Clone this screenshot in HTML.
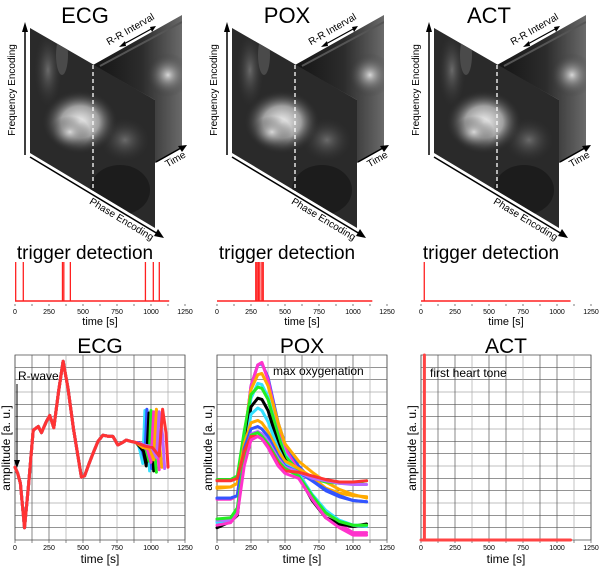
<!DOCTYPE html>
<html><head><meta charset="utf-8">
<style>
html,body{margin:0;padding:0;background:#fff;}
svg{display:block;font-family:"Liberation Sans",sans-serif;}
</style></head>
<body>
<svg id="fig" width="600" height="567" viewBox="0 0 600 567">
<defs>
  <radialGradient id="heart" cx="0.5" cy="0.5" r="0.5">
    <stop offset="0" stop-color="#f0f0f0"/><stop offset="0.5" stop-color="#a0a0a0"/><stop offset="1" stop-color="#2a2a2a" stop-opacity="0"/>
  </radialGradient>
  <radialGradient id="glow" cx="0.5" cy="0.5" r="0.5">
    <stop offset="0" stop-color="#d8d8d8"/><stop offset="1" stop-color="#303030" stop-opacity="0"/>
  </radialGradient>
  <radialGradient id="soft" cx="0.5" cy="0.5" r="0.5">
    <stop offset="0" stop-color="#6a6a6a"/><stop offset="1" stop-color="#303030" stop-opacity="0"/>
  </radialGradient>
  <linearGradient id="backg" x1="0" y1="0" x2="1" y2="0">
    <stop offset="0" stop-color="#141414"/><stop offset="0.55" stop-color="#2c2c2c"/><stop offset="1" stop-color="#6a6a6a"/>
  </linearGradient>
  <clipPath id="frontClip"><polygon points="30,28 155,100 155,228 30,153"/></clipPath>
  <clipPath id="backClip"><polygon points="93,65 182,15 182,148 155,163 155,100"/></clipPath>
  <g id="mri">
    <polygon points="93,65 182,15 182,148 155,163 155,100" fill="url(#backg)"/>
    <g clip-path="url(#backClip)">
      <ellipse cx="168" cy="75" rx="22" ry="22" fill="url(#glow)"/>
      <polygon points="125,88 155,100 155,163 125,150" fill="#3a3a3a"/>
      <line x1="100" y1="66" x2="182" y2="22" stroke="#555" stroke-width="2"/>
    </g>
    <polygon points="30,28 155,100 155,228 30,153" fill="#2a2a2a"/>
    <g clip-path="url(#frontClip)">
      <ellipse cx="48" cy="70" rx="14" ry="38" fill="url(#soft)"/>
      <ellipse cx="62" cy="55" rx="6" ry="20" fill="#4a4a4a"/>
      <ellipse cx="120" cy="190" rx="30" ry="25" fill="#1c1c1c"/>
      <ellipse cx="125" cy="140" rx="25" ry="22" fill="url(#soft)"/>
      <ellipse cx="80" cy="122" rx="38" ry="32" fill="url(#heart)"/>
      <ellipse cx="70" cy="132" rx="20" ry="16" fill="url(#glow)"/>
    </g>
    <line x1="93" y1="65" x2="93" y2="193" stroke="#fff" stroke-width="1.3" stroke-dasharray="4,3"/>
    <line x1="25" y1="155" x2="25" y2="30" stroke="#000" stroke-width="1.5"/>
    <polygon points="25,22 22,32 28,32" fill="#000"/>
    <line x1="30" y1="157" x2="158" y2="234" stroke="#000" stroke-width="1.5"/>
    <polygon points="164,238 154,236 158,229" fill="#000"/>
    <line x1="156" y1="162" x2="181" y2="148" stroke="#000" stroke-width="1.5"/>
    <polygon points="187,145 178,146 182,152" fill="#000"/>
    <line x1="122" y1="45" x2="153" y2="28" stroke="#000" stroke-width="1.2"/>
    <polygon points="119,47 125,41 126,46" fill="#000"/>
    <polygon points="156,26 150,27 152,32" fill="#000"/>
    <text x="15" y="90" font-size="10" text-anchor="middle" transform="rotate(-90 15 90)">Frequency Encoding</text>
    <text x="120" y="222" font-size="10" text-anchor="middle" transform="rotate(31 120 222)">Phase Encoding</text>
    <text x="177" y="162" font-size="10" text-anchor="middle" transform="rotate(-30 177 162)">Time</text>
    <text x="132" y="32" font-size="10" text-anchor="middle" transform="rotate(-30 132 32)">R-R Interval</text>
  </g>
</defs>
<g id="tops"></g>
<g id="charts"></g>
</svg>
<script>
// ---------------- data ----------------
const panelTitles = ["ECG", "POX", "ACT"];
const tickLabels = ["0", "250", "500", "750", "1000", "1250"];
const tickValues = [0, 250, 500, 750, 1000, 1250];
const gridT = [0,125,250,375,500,625,750,875,1000,1125,1250];

const trigEcg = [5, 61, 349, 359, 407, 959, 1017, 1061];
const trigPox = [285, 295, 305, 315, 330, 340];
const trigAct = [24];
const trigEnd = [1134, 1142, 1100];

// ECG common waveform
const ecgT = [0,20,40,70,100,134,171,195,230,256,285,320,354,390,430,488,512,545,573,610,646,690,720,756,790,817,850,890];
const ecgV = [5.9,5.4,4.6,1.0,4.5,8.9,9.2,8.7,9.6,10.1,9.1,12.0,14.5,12.3,9.0,5.1,5.2,6.2,7.0,8.0,8.5,8.4,8.4,7.7,7.9,8.1,8.0,7.9];
const ecgColors = ["#33e0ff","#3355ff","#000000","#22ee22","#ff33cc","#ffaa00","#bb66ff","#ff3333"];
const tailT_cyan = [905,920,940,955,975,990];       const tailV_cyan = [7.8,7.2,6.2,10.5,8.5,5.6];
const tailT_blue = [910,930,955,970,990,1005];      const tailV_blue = [7.9,7.4,6.5,10.6,8.2,5.8];
const tailT_black = [915,945,965,985,1005,1020];    const tailV_black = [7.6,7.2,6.0,10.3,8.4,5.6];
const tailT_green = [920,960,985,1000,1020,1040];   const tailV_green = [7.7,7.5,6.4,10.5,8.0,5.5];
const tailT_mag = [930,975,1000,1020,1040,1060];    const tailV_mag = [7.8,7.3,6.3,10.4,8.3,5.7];
const tailT_orange = [940,990,1020,1040,1060,1080]; const tailV_orange = [7.5,7.4,6.5,10.6,8.0,5.9];
const tailT_violet = [950,1000,1040,1060,1085,1100];const tailV_violet = [7.7,7.6,6.7,10.4,8.5,5.8];
const tailT_red = [960,1010,1060,1085,1110,1125];   const tailV_red = [7.6,7.5,6.8,10.6,8.7,5.9];
const ecgTailT = [tailT_cyan,tailT_blue,tailT_black,tailT_green,tailT_mag,tailT_orange,tailT_violet,tailT_red];
const ecgTailV = [tailV_cyan,tailV_blue,tailV_black,tailV_green,tailV_mag,tailV_orange,tailV_violet,tailV_red];

// POX
const poxT = [0,100,150,200,250,300,330,375,450,500,600,700,800,900,1000,1100];
const poxColors = ["#3355ff","#ff33cc","#ffaa00","#33e0ff","#22ee22","#000000","#33e0ff","#ffaa00","#3355ff","#bb66ff","#22ee22","#ff3333","#ff33cc"];
const pox1 = [3.4,3.4,3.6,8,12.5,14.2,14.3,13.2,9.5,7.8,6,4.8,4.0,3.5,3.2,3.1];
const pox2 = [3.3,3.3,3.6,8,12.5,14.2,14.4,13.0,9.2,7.4,5.6,3.4,2.2,1.3,0.6,0.6];
const pox3 = [4.3,4.3,4.6,8.5,12.2,13.4,13.5,12.5,9.5,7.8,6.4,5.5,4.7,4.1,3.7,3.4];
const pox4 = [1.5,1.6,2.5,7.5,11.5,12.7,12.6,11.6,8.5,7.0,5.4,3.6,2.3,1.6,1.2,1.2];
const pox5 = [4.9,4.9,5.2,8.8,11.8,12.4,12.3,11.4,8.5,6.8,5.6,5.0,4.7,4.6,4.6,4.8];
const pox6 = [1.0,1.5,2.0,7.0,10.8,11.5,11.4,10.5,7.8,6.5,5.2,3.2,1.8,1.3,1.1,1.3];
const pox7 = [1.4,1.6,2.3,6.8,10.2,10.7,10.5,9.6,7.4,6.3,5.4,3.7,2.4,1.6,1.2,1.1];
const pox8 = [4.2,4.3,4.6,7.8,9.5,9.7,9.5,8.8,7.2,6.4,5.8,5.1,4.2,3.8,3.6,3.5];
const pox9 = [3.4,3.4,3.6,7.4,9.0,9.2,9.0,8.4,6.8,6.0,5.5,4.8,4.1,3.6,3.2,3.1];
const pox10 = [1.6,1.6,2.3,6.8,8.6,8.8,8.6,8.0,6.6,5.9,5.5,5.0,4.8,4.6,4.5,4.5];
const pox11 = [1.7,1.8,2.6,6.6,8.5,8.7,8.4,7.8,6.4,5.8,5.2,3.6,2.2,1.5,1.2,1.2];
const pox12 = [4.8,4.8,5.0,7.2,8.4,8.4,8.2,7.6,6.2,5.6,5.5,5.2,4.9,4.7,4.7,4.8];
const pox13 = [1.2,1.4,2.1,6.0,8.1,8.4,8.2,7.5,6.0,5.4,5.0,3.3,1.8,1.0,0.4,0.4];
const poxSeries = [pox1,pox2,pox3,pox4,pox5,pox6,pox7,pox8,pox9,pox10,pox11,pox12,pox13];

// ACT
const actSpikeT = [25];
const actBaseEnd = [1100];
const actTop = [15];

// ---------------- drawing ----------------
const NS = "http://www.w3.org/2000/svg";
const tops = document.getElementById("tops");
const charts = document.getElementById("charts");
const colX = [0, 202, 404];
const plotX = [15, 217, 421];
const W = 170, Y0 = 540, Y1 = 355, AMAX = 15;

function mk(tag, parent, attrs) {
  const e = document.createElementNS(NS, tag);
  for (const k in attrs) e.setAttribute(k, attrs[k]);
  parent.appendChild(e);
  return e;
}
function xs(c, t) { return plotX[c] + t / 1250 * W; }
function ys(a) { return Y0 - a / AMAX * (Y0 - Y1); }

panelTitles.forEach((title, c) => {
  const g = mk("g", tops, {transform: "translate(" + colX[c] + ",0)"});
  
  
  mk("use", g, {href: "#mri"});
  const tt = mk("text", g, {x: 85, y: 23, "font-size": 22, "text-anchor": "middle"});
  tt.textContent = title;
  
  

  const tg = mk("g", charts, {});
  
  
  const th = mk("text", tg, {x: plotX[c] + 70, y: 259, "font-size": 19, "text-anchor": "middle"});
  th.textContent = "trigger detection";
  
  
  const base = 301;
  const bl = mk("line", tg, {x1: xs(c, 0), y1: base, x2: xs(c, trigEnd[c]), y2: base, stroke: "#ff2020", "stroke-width": 1.6});
  
  
  const trig = [trigEcg, trigPox, trigAct][c];
  trig.forEach(t => {
    const p = mk("line", tg, {x1: xs(c, t), y1: base, x2: xs(c, t), y2: 262, stroke: "#ff2020", "stroke-width": 1.3});
    
    
  });
  gridT.forEach(t => { mk("line", tg, {x1: xs(c, t), y1: 304, x2: xs(c, t), y2: 306, stroke: "#444", "stroke-width": 0.7}); });
  tickValues.forEach((t, i) => {
    const l = mk("text", tg, {x: xs(c, t), y: 314, "font-size": 7, "text-anchor": "middle"});
    l.textContent = tickLabels[i];
    
    
  });
  const tx = mk("text", tg, {x: xs(c, 625), y: 325, "font-size": 11, "text-anchor": "middle"});
  tx.textContent = "time [s]";
  
  

  const bg = mk("g", charts, {});
  
  
  const bt = mk("text", bg, {x: plotX[c] + 85, y: 353, "font-size": 21, "text-anchor": "middle"});
  bt.textContent = title;
  
  
  mk("rect", bg, {x: plotX[c], y: Y1, width: W, height: Y0 - Y1, fill: "#fff", stroke: "#555", "stroke-width": 0.8});
  for (let a = 1; a < AMAX; a++) {
    mk("line", bg, {x1: plotX[c], y1: ys(a), x2: plotX[c] + W, y2: ys(a), stroke: (a % 3 === 0) ? "#aaa" : "#555", "stroke-width": 0.7});
  }
  gridT.forEach((t, i) => {
    mk("line", bg, {x1: xs(c, t), y1: Y1, x2: xs(c, t), y2: Y0, stroke: (i % 3 === 0 && i > 0) ? "#aaa" : "#555", "stroke-width": 0.7});
    mk("line", bg, {x1: xs(c, t), y1: Y0, x2: xs(c, t), y2: Y0 + 3, stroke: "#555", "stroke-width": 0.7});
  });
  tickValues.forEach((t, i) => {
    const l = mk("text", bg, {x: xs(c, t), y: 550, "font-size": 7, "text-anchor": "middle"});
    l.textContent = tickLabels[i];
    
    
  });
  const xt = mk("text", bg, {x: xs(c, 625), y: 563, "font-size": 12, "text-anchor": "middle"});
  xt.textContent = "time [s]";
  
  
  const yt = mk("text", bg, {x: plotX[c] - 5, y: 448, "font-size": 12, "text-anchor": "middle", transform: "rotate(-90 " + (plotX[c] - 5) + " 448)"});
  yt.textContent = "amplitude [a. u.]";
  
  

  function line(ts, vs, color, w) {
    let d = "";
    ts.forEach((t, i) => { d += (i ? "L" : "M") + xs(c, t).toFixed(1) + "," + ys(vs[i]).toFixed(1); });
    const p = mk("path", bg, {d: d, fill: "none", stroke: color, "stroke-width": w, "stroke-linejoin": "round", "stroke-linecap": "round"});
    
    
    return p;
  }
  if (c === 0) {
    ecgColors.forEach((col, i) => {
      line(ecgT.concat(ecgTailT[i]), ecgV.concat(ecgTailV[i]), col, 3);
    });
    const rw = mk("text", bg, {x: 18, y: 380, "font-size": 12});
    rw.textContent = "R-wave";
    
    
    mk("line", bg, {x1: 17, y1: 384, x2: 17, y2: 462, stroke: "#000", "stroke-width": 1});
    mk("polygon", bg, {points: "17,468 14,460 20,460", fill: "#000"});
  } else if (c === 1) {
    poxSeries.forEach((s, i) => { line(poxT, s, poxColors[i], 3); });
    const mo = mk("text", bg, {x: 273, y: 375, "font-size": 12});
    mo.textContent = "max oxygenation";
    
    
  } else {
    line([0, actBaseEnd[0]], [0, 0], "#ff4444", 3);
    line([actSpikeT[0], actSpikeT[0]], [0, actTop[0]], "#ff4444", 3);
    const fh = mk("text", bg, {x: 430, y: 377, "font-size": 12});
    fh.textContent = "first heart tone";
    
    
  }
});
</script>
</body></html>
